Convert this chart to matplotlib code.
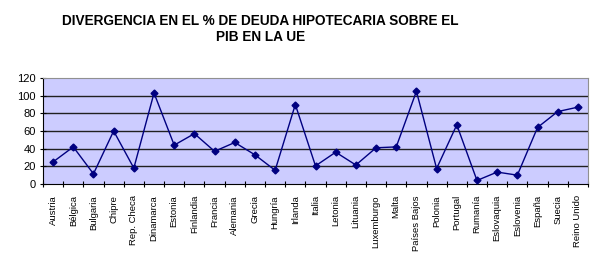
import numpy as np
import matplotlib.pyplot as plt

plt.rcParams['font.family'] = ['Liberation Sans', 'DejaVu Sans']

paises = ['Austria', 'Bélgica', 'Bulgaria', 'Chipre', 'Rep. Checa', 'Dinamarca',
          'Estonia', 'Finlandia', 'Francia', 'Alemania', 'Grecia', 'Hungría',
          'Irlanda', 'Italia', 'Letonia', 'Lituania', 'Luxemburgo', 'Malta',
          'Países Bajos', 'Polonia', 'Portugal', 'Rumanía', 'Eslovaquia',
          'Eslovenia', 'España', 'Suecia', 'Reino Unido']
deuda = [25, 42, 11.5, 60, 18, 103, 44, 57, 37, 47, 33, 15.5,
         90, 20.5, 36, 21.5, 41, 42, 105, 17.5, 67, 4, 13.5,
         10, 64, 82, 87]
yticks = [0, 20, 40, 60, 80, 100, 120]

fig = plt.figure(figsize=(5.97, 2.72), dpi=100)
ax = fig.add_axes([43 / 597, 1 - 184 / 272, 545 / 597, 106 / 272])
ax.set_facecolor('#CCCCFF')

x = np.arange(len(paises))
ax.plot(x, deuda, color='#000080', lw=1, marker='D', ms=3.5, zorder=3)

ax.set_xlim(-0.5, len(paises) - 0.5)
ax.set_ylim(0, 120)
ax.set_yticks(yticks)
ax.set_yticklabels([str(v) for v in yticks], fontsize=8)
for v in yticks[1:-1]:
    ax.axhline(v, color='#202020', lw=1, zorder=1)

# categorias con marcas entre ellas
ax.set_xticks(x)
ax.set_xticklabels(paises, rotation=90, fontsize=6.8)
ax.tick_params(axis='x', length=0, pad=8)
ax.set_xticks(np.arange(len(paises) + 1) - 0.5, minor=True)
ax.tick_params(axis='x', which='minor', length=4, direction='inout', width=0.8)
ax.tick_params(axis='y', length=4, direction='inout', width=0.8, pad=3)

ax.spines['left'].set_color('black')
ax.spines['bottom'].set_color('black')
ax.spines['top'].set_color('#909090')
ax.spines['right'].set_color('#909090')

fig.text(0.436, 0.95, 'DIVERGENCIA EN EL % DE DEUDA HIPOTECARIA SOBRE EL\nPIB EN LA UE',
         ha='center', va='top', fontsize=9.8, fontweight='bold', linespacing=1.25)

fig.savefig('out.png', dpi=100)
